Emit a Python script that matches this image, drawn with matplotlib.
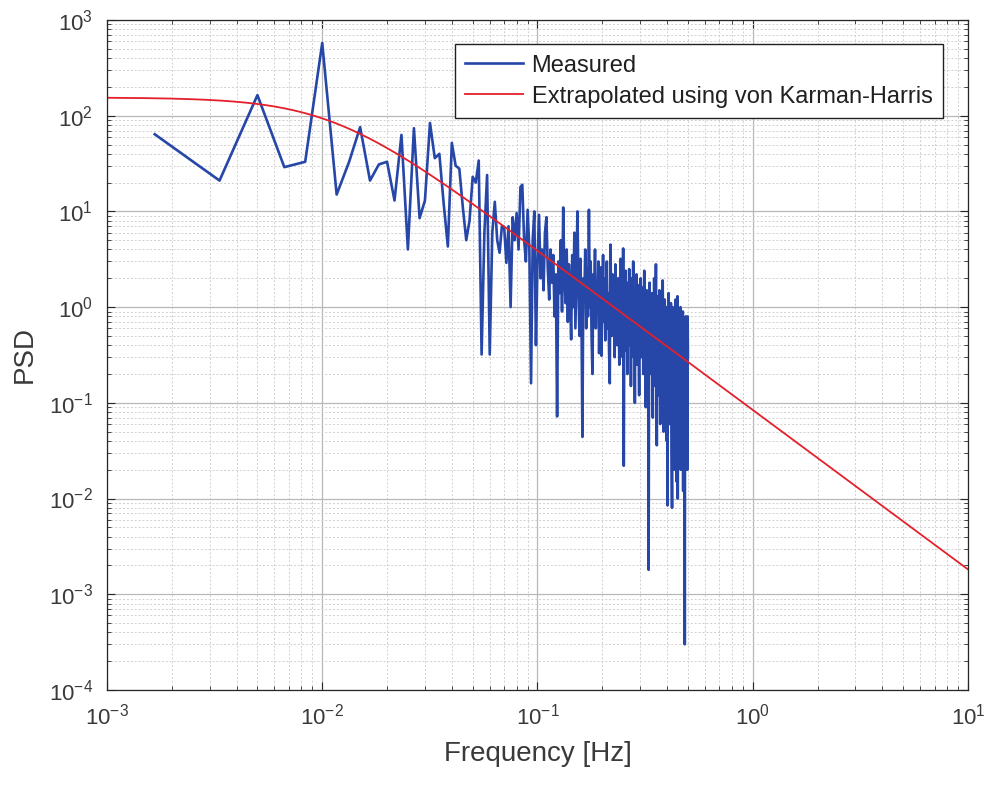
import numpy as np
import matplotlib
matplotlib.use("Agg")
import matplotlib.pyplot as plt
from matplotlib.ticker import LogLocator, NullFormatter

plt.rcParams['font.family'] = ['Liberation Sans', 'DejaVu Sans']
plt.rcParams['mathtext.fontset'] = 'custom'
plt.rcParams['mathtext.rm'] = 'Liberation Sans'

# measured PSD, one value per frequency bin (df = 1/600 Hz)
df = 1.0 / 600.0
psd_measured = [
    64, 21, 164, 29, 33, 575, 15, 33, 76, 21,
    31, 33, 13, 63, 4.0, 74, 8.5, 13, 84, 36,
    40, 12, 4.3, 52, 30, 28, 11, 5.0, 8, 23,
    20, 34, 0.32, 6, 24, 0.32, 6, 12.6, 5, 3.7,
    7, 6.9, 2.9, 7, 1.0, 8.7, 5, 9.6, 4, 18,
    19, 5, 3, 10.4, 4, 0.16, 5, 10, 0.4, 3,
    9.2, 2, 4, 1.5, 6, 8.7, 2.5, 1.2, 4, 1.8,
    3.5, 0.8, 2.2, 0.072, 3, 1.4, 5, 0.9, 11, 2,
    1.1, 4, 0.7, 2.8, 1.3, 0.46, 3.5, 1.0, 6, 0.6,
    2.5, 10, 1.5, 0.5, 3.2, 0.9, 0.044, 2, 1.2, 4,
    0.6, 2.5, 0.8, 10.4, 1.0, 3, 0.5, 0.2, 2.2, 1.1,
    4, 0.6, 1.8, 0.9, 3, 0.33, 1.5, 2.6, 0.31, 1.2,
    3.5, 0.7, 2, 0.45, 1.6, 3, 0.6, 1.4, 0.35, 0.16,
    4.5, 1.0, 0.5, 2.2, 0.8, 1.5, 0.3, 2.8, 0.6, 1.2,
    0.4, 2, 0.9, 0.25, 1.6, 3.2, 0.5, 1.1, 0.3, 4.1,
    0.022, 1.3, 0.6, 2.4, 0.35, 1, 0.2, 1.8, 0.7, 2.5,
    0.4, 1.2, 0.15, 0.9, 2, 0.5, 3.0, 0.3, 1.1, 0.1,
    1.5, 0.6, 2.2, 0.25, 0.9, 1.7, 0.4, 0.12, 1.3, 0.7,
    2, 0.3, 1, 0.5, 1.6, 0.2, 0.8, 2.4, 0.35, 1.2,
    0.09, 0.7, 1.5, 0.4, 1, 0.25, 0.0018, 0.6, 1.8, 0.5,
    1.1, 0.2, 0.8, 1.4, 0.3, 0.07, 1.2, 0.45, 2, 0.6,
    0.15, 0.9, 2.8, 0.4, 0.036, 0.7, 1.3, 0.25, 0.9, 0.12,
    1.5, 0.5, 0.06, 0.8, 0.3, 1.1, 0.18, 0.6, 1.9, 0.4,
    0.05, 0.9, 0.3, 1.2, 0.1, 0.7, 0.25, 1.0, 0.04, 0.5,
    0.0085, 0.8, 0.2, 1.4, 0.35, 0.06, 0.9, 0.15, 0.6, 1.1,
    0.25, 0.03, 0.008, 0.5, 1.0, 0.12, 0.7, 0.3, 0.02, 0.9,
    0.4, 0.08, 1.2, 0.2, 0.6, 0.015, 0.8, 1.3, 0.01, 0.5,
    0.1, 0.9, 0.25, 0.04, 0.7, 0.15, 1.0, 0.02, 0.4, 0.8,
    0.06, 0.5, 0.2, 0.9, 0.012, 0.6, 0.3, 0.03, 0.7, 0.0003,
    0.5, 0.15, 0.8, 0.02, 0.4, 0.6, 0.05, 0.02, 0.8, 0.3,
]
freq_measured = df * np.arange(1, len(psd_measured) + 1)

# von Karman-Harris fit: S0 / (1 + (f/fc)^2)^(5/6)
S0 = 155.0
fc = 0.011
freq_fit = np.logspace(-3, 1, 400)
psd_fit = S0 / (1.0 + (freq_fit / fc) ** 2) ** (5.0 / 6.0)

fig = plt.figure(figsize=(9.96, 7.87), dpi=100)
ax = fig.add_axes([0.1074, 0.1233, 0.8645, 0.8513])

ax.loglog(freq_measured, psd_measured, color='#2646a8', lw=1.9, label='Measured')
ax.loglog(freq_fit, psd_fit, color='#e4202c', lw=1.3, label='Extrapolated using von Karman-Harris')

ax.set_xlim(1e-3, 1e1)
ax.set_ylim(1e-4, 1e3)

ax.xaxis.set_major_locator(LogLocator(base=10, numticks=10))
ax.yaxis.set_major_locator(LogLocator(base=10, numticks=10))
ax.xaxis.set_minor_locator(LogLocator(base=10, subs=np.arange(2, 10), numticks=20))
ax.yaxis.set_minor_locator(LogLocator(base=10, subs=np.arange(2, 10), numticks=20))
ax.xaxis.set_minor_formatter(NullFormatter())
ax.yaxis.set_minor_formatter(NullFormatter())

ax.grid(True, which='major', color='#b8b8b8', lw=0.9, ls='-')
ax.grid(True, which='minor', color='#d0d0d0', lw=0.7, ls=(0, (2, 2)))
ax.set_axisbelow(True)

ax.tick_params(which='both', direction='in', top=True, right=True, colors='#262626',
               labelcolor='#3a3a3a')
ax.tick_params(which='major', length=6, labelsize=16, pad=10)
ax.tick_params(which='minor', length=3)
for s in ax.spines.values():
    s.set_color('#262626')
    s.set_linewidth(0.9)

ax.set_xlabel('Frequency [Hz]', fontsize=20, color='#3a3a3a', labelpad=8)
ax.set_ylabel('PSD', fontsize=20, color='#3a3a3a', labelpad=8)

leg = ax.legend(loc='upper right', bbox_to_anchor=(0.971, 0.964), fontsize=17,
                frameon=True, fancybox=False, edgecolor='#202020', framealpha=1,
                handlelength=2.45, handletextpad=0.35, borderpad=0.45, labelspacing=0.38,
                borderaxespad=0)
leg.get_frame().set_linewidth(1.0)
for t in leg.get_texts():
    t.set_color('#202020')

fig.savefig('out.png', dpi=100, facecolor='white')
